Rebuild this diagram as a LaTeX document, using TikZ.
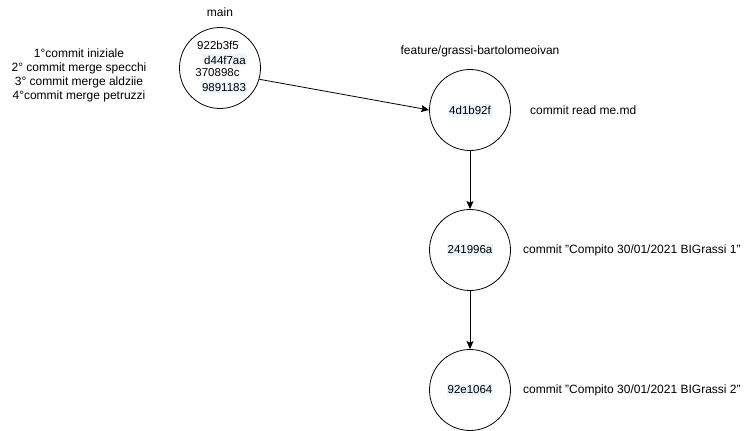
\documentclass[tikz,border=0pt]{standalone}
\usepackage{fontspec}
\setmainfont{Liberation Sans}
\usetikzlibrary{arrows.meta}
\definecolor{hl}{RGB}{236,244,252}
\tikzset{
  commit/.style={draw, circle, minimum size=81pt, inner sep=0pt, line width=0.8pt},
  lbl/.style={font=\fontsize{12pt}{14pt}\selectfont, inner sep=0pt},
  hashtxt/.style={font=\fontsize{11.5pt}{13pt}\selectfont, inner sep=0pt},
  hash/.style={hashtxt, fill=hl, inner xsep=1pt, inner ysep=1.5pt},
  link/.style={-{Stealth[length=8pt,width=7pt,inset=1.5pt]}, line width=0.8pt},
}
\begin{document}
\begin{tikzpicture}[x=1pt,y=-1pt]
\useasboundingbox (0,0) rectangle (756,431);
% main
\node[commit] (m) at (220,68) {};
\node[lbl] (mlab) at (220,12) {main};
\node[hashtxt] (h1) at (218,45) {922b3f5};
\node[hash] (h2) at (225,60) {d44f7aa};
\node[hashtxt] (h3) at (217.5,73) {370898c};
\node[hash] (h4) at (224,87.5) {9891183};
\node[lbl, align=center] (legend) at (79,75) {1°commit iniziale\\2° commit merge specchi\\3° commit merge aldziie\\4°commit merge petruzzi};
% feature branch
\node[lbl] (flab) at (480,51) {feature/grassi-bartolomeoivan};
\node[commit] (c1) at (470,110) {};
\node[hash] (c1h) at (c1) {4d1b92f};
\node[lbl, anchor=west] (c1t) at (530,110) {commit read me.md};
\node[commit] (c2) at (470,250) {};
\node[hash] (c2h) at (c2) {241996a};
\node[lbl, anchor=west] (c2t) at (523,250) {commit "Compito 30/01/2021 BIGrassi 1"};
\node[commit] (c3) at (470,390) {};
\node[hash] (c3h) at (c3) {92e1064};
\node[lbl, anchor=west] (c3t) at (523,390) {commit "Compito 30/01/2021 BIGrassi 2"};
% connectors
\draw[link] (m.-16) -- (c1.west);
\draw[link] (c1.south) -- (c2.north);
\draw[link] (c2.south) -- (c3.north);
\end{tikzpicture}
\end{document}
